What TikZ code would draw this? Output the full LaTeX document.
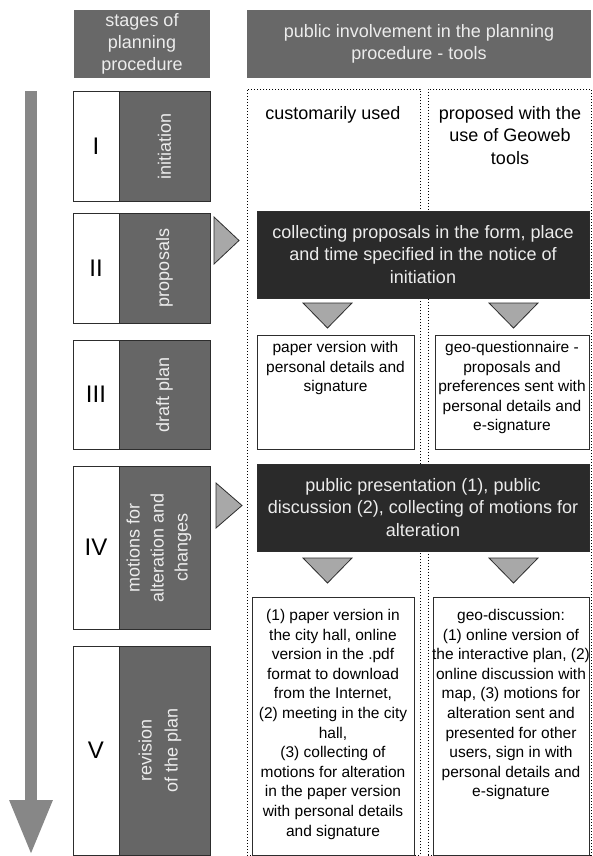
\documentclass[tikz,border=0pt]{standalone}
\usepackage{fontspec}
\setmainfont{Liberation Sans}
\usetikzlibrary{arrows.meta}
\definecolor{hdrgray}{RGB}{104,104,104}
\definecolor{stagegray}{RGB}{102,102,102}
\definecolor{darkfill}{RGB}{42,42,42}
\definecolor{lighttxt}{RGB}{236,236,236}
\definecolor{trigray}{RGB}{168,168,168}
\definecolor{arrowgray}{RGB}{135,135,135}
\definecolor{edge}{RGB}{45,45,45}
\begin{document}
\begin{tikzpicture}[x=1pt,y=1pt,
  hdr/.style={rectangle, fill=hdrgray, text=lighttxt, align=center, inner sep=0pt, font=\fontsize{18}{22}\selectfont},
  numbox/.style={rectangle, draw=edge, line width=0.8pt, fill=white, inner sep=0pt, minimum width=46pt, font=\fontsize{24}{28}\selectfont},
  stagebox/.style={rectangle, draw=edge, line width=0.8pt, fill=stagegray, inner sep=0pt, minimum width=91pt},
  stagelabel/.style={rotate=90, text=lighttxt, align=center, inner sep=0pt, font=\fontsize{18}{24}\selectfont},
  column/.style={rectangle, draw=black, dash pattern=on 1.1pt off 1.9pt, line width=0.8pt, inner sep=0pt},
  coltitle/.style={align=center, anchor=north, inner sep=0pt, font=\fontsize{18}{22.5}\selectfont},
  darkbox/.style={rectangle, fill=darkfill, draw=edge, line width=0.8pt, text=lighttxt, align=center, inner sep=0pt, minimum width=332pt, minimum height=87pt, font=\fontsize{18}{22.5}\selectfont},
  whitebox/.style={rectangle, draw=edge, line width=0.9pt, fill=white, inner sep=0pt},
  boxtext/.style={align=center, anchor=north, inner sep=0pt, font=\fontsize{15.5}{19.6}\selectfont},
  tri/.style={fill=trigray, draw=edge, line width=0.8pt, line join=miter},
]
\useasboundingbox (0,0) rectangle (592,-856);
\fill[white] (0,0) rectangle (592,-856);

% headers
\node[hdr, minimum width=136pt, minimum height=68pt] (h1) at (142,-44) {stages of\\planning\\procedure};
\node[hdr, minimum width=344pt, minimum height=68pt] (h2) at (419,-44) {public involvement in the planning\\procedure - tools};

% big time arrow
\coordinate (atop) at (31,-91);
\coordinate (abot) at (31,-855);
\draw[arrowgray, line width=12pt, -{Triangle[width=40pt,length=55pt]}] (atop) -- (abot);

% stages
\node[numbox, minimum height=110pt] (n1) at (96,-146) {I};
\node[stagebox, minimum height=110pt] (s1) at (164.5,-146) {};
\node[stagelabel] (l1) at (s1.center) {initiation};

\node[numbox, minimum height=110pt] (n2) at (96,-268) {II};
\node[stagebox, minimum height=110pt] (s2) at (164.5,-268) {};
\node[stagelabel] (l2) at (s2.center) {proposals};

\node[numbox, minimum height=109pt] (n3) at (96,-394.5) {III};
\node[stagebox, minimum height=109pt] (s3) at (164.5,-394.5) {};
\node[stagelabel] (l3) at (s3.center) {draft plan};

\node[numbox, minimum height=163pt] (n4) at (96,-547.5) {IV};
\node[stagebox, minimum height=163pt] (s4) at (164.5,-547.5) {};
\node[stagelabel] (l4) at (159,-547.5) {motions for\\alteration and\\changes};

\node[numbox, minimum height=209pt] (n5) at (96,-750.5) {V};
\node[stagebox, minimum height=209pt] (s5) at (164.5,-750.5) {};
\node[stagelabel, font=\fontsize{18}{26}\selectfont] (l5) at (160,-750) {revision\\of the plan};

% columns
\node[column, minimum width=173pt, minimum height=766pt] (c1) at (333.5,-472) {};
\node[column, minimum width=163pt, minimum height=766pt] (c2) at (509.5,-472) {};
\node[coltitle] (t1) at (333,-106) {customarily used};
\node[coltitle] (t2) at (510,-106) {proposed with the\\use of Geoweb\\tools};

% dark boxes
\node[darkbox] (d1) at (423,-254.5) {collecting proposals in the form, place\\and time specified in the notice of\\initiation};
\node[darkbox] (d2) at (423,-507.5) {public presentation (1), public\\discussion (2), collecting of motions for\\alteration};

% white boxes stage III
\node[whitebox, minimum width=157pt, minimum height=114pt] (w3a) at (335.5,-392) {};
\node[boxtext] (w3at) at (335.5,-341) {paper version with\\personal details and\\signature};
\node[whitebox, minimum width=154pt, minimum height=114pt] (w3b) at (512,-392) {};
\node[boxtext] (w3bt) at (512,-341) {geo-questionnaire -\\proposals and\\preferences sent with\\personal details and\\e-signature};

% white boxes stage V
\node[whitebox, minimum width=162pt, minimum height=258pt] (w5a) at (333,-726) {};
\node[boxtext] (w5at) at (333,-609) {(1) paper version in\\the city hall, online\\version in the .pdf\\format to download\\from the Internet,\\(2) meeting in the city\\hall,\\(3) collecting of\\motions for alteration\\in the paper version\\with personal details\\and signature};
\node[whitebox, minimum width=156pt, minimum height=258pt] (w5b) at (511,-726) {};
\node[boxtext] (w5bt) at (511,-609) {geo-discussion:\\(1) online version of\\the interactive plan, (2)\\online discussion with\\map, (3) motions for\\alteration sent and\\presented for other\\users, sign in with\\personal details and\\e-signature};

% triangles
\draw[tri] (214,-217) -- (239,-240.5) -- (214,-264) -- cycle;
\draw[tri] (216,-483) -- (242,-505.5) -- (216,-528) -- cycle;
\draw[tri] (303,-303) -- (352,-303) -- (327.5,-328) -- cycle;
\draw[tri] (489,-303) -- (538,-303) -- (513.5,-328) -- cycle;
\draw[tri] (303,-558) -- (352,-558) -- (327.5,-583) -- cycle;
\draw[tri] (489,-558) -- (538,-558) -- (513.5,-583) -- cycle;
\end{tikzpicture}
\end{document}
